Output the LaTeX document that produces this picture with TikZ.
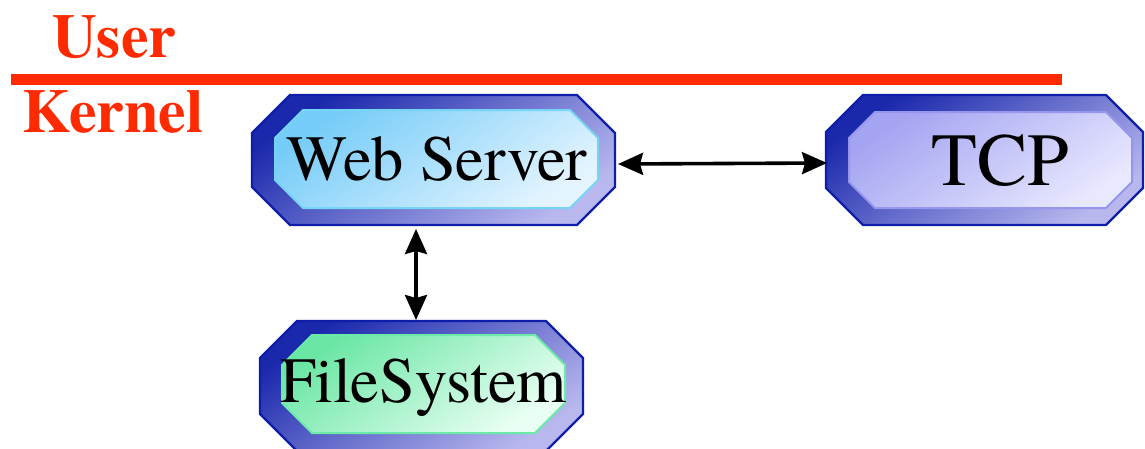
\documentclass[tikz,border=0pt]{standalone}
\usepackage{fontspec}
\IfFontExistsTF{texgyretermes-regular.otf}{%
  \setmainfont{texgyretermes}[Extension=.otf, UprightFont=*-regular, BoldFont=*-bold, ItalicFont=*-italic, BoldItalicFont=*-bolditalic]}{%
  \setmainfont{DejaVu Serif}}
\usetikzlibrary{arrows.meta}
\definecolor{redtxt}{RGB}{255,42,0}
\definecolor{ringdark}{RGB}{26,40,172}
\definecolor{ringlight}{RGB}{184,184,238}
\definecolor{ringborder}{RGB}{14,30,168}
\definecolor{webA}{RGB}{118,204,248}
\definecolor{webB}{RGB}{228,244,255}
\definecolor{webE}{RGB}{118,212,246}
\definecolor{tcpA}{RGB}{164,164,242}
\definecolor{tcpB}{RGB}{232,232,255}
\definecolor{tcpE}{RGB}{150,150,236}
\definecolor{fsA}{RGB}{106,230,164}
\definecolor{fsB}{RGB}{234,255,244}
\definecolor{fsE}{RGB}{108,234,168}
% octagon: x1,y1,x2,y2,cut
\newcommand\octo[5]{({#1+#5},#2) -- ({#3-#5},#2) -- (#3,{#2+#5}) -- (#3,{#4-#5}) -- ({#3-#5},#4) -- ({#1+#5},#4) -- (#1,{#4-#5}) -- (#1,{#2+#5}) -- cycle}
\tikzset{
  ring/.style={draw=ringborder, line width=2.4pt, line join=miter, shading=axis, top color=ringdark, bottom color=ringlight, shading angle=35},
  core/.style args={#1/#2/#3}{draw=#3, line width=2pt, shading=axis, top color=#1, bottom color=#2, shading angle=35},
  boxnode/.style={inner sep=0pt, outer sep=0pt, minimum height=130pt},
  lbl/.style={inner sep=0pt, anchor=base, font=\rmfamily\fontsize{64.5}{64.5}\selectfont},
  layer/.style={inner sep=0pt, anchor=base west, text=redtxt, font=\rmfamily\fontsize{62}{62}\selectfont\bfseries},
  arr/.style={line width=3.6pt, {Stealth[length=25pt,width=22pt,inset=3pt]}-{Stealth[length=25pt,width=22pt,inset=3pt]}}
}
\begin{document}
\begin{tikzpicture}[x=1pt,y=-1pt]
\useasboundingbox (0,0) rectangle (1145,448);
% layer line and labels
\coordinate (lineL) at (11,79.5);
\coordinate (lineR) at (1062,79.5);
\draw[redtxt, line width=10.5pt] (lineL) -- (lineR);
\node[layer] (user) at (52,57) {User};
\node[layer] (kernel) at (22,132) {Kernel};
% Web Server
\path[ring] \octo{252}{95}{615}{225}{38};
\path[core=webA/webB/webE] \octo{275}{110}{598}{208}{28};
\node[boxnode, minimum width=363pt] (ws) at (433.5,160) {};
\node[lbl] (wst) at (437,180) {Web Server};
% TCP
\path[ring] \octo{826}{95}{1143}{225}{37};
\path[core=tcpA/tcpB/tcpE] \octo{849}{112}{1132}{208}{26};
\node[boxnode, minimum width=317pt] (tcp) at (984.5,160) {};
\node[lbl, font=\rmfamily\fontsize{75}{75}\selectfont] (tcpt) at (1000.5,185) {TCP};
% FileSystem
\path[ring] \octo{260}{321}{583}{451}{37};
\path[core=fsA/fsB/fsE] \octo{282}{335}{565}{433}{30};
\node[boxnode, minimum width=323pt] (fs) at (421.5,386) {};
\node[lbl] (fst) at (423.5,402) {FileSystem};
% connectors
\draw[arr] ([xshift=3pt,yshift=-4pt]ws.east) -- ([xshift=1pt,yshift=-3pt]tcp.west);
\draw[arr] ([xshift=-17.5pt,yshift=-4pt]ws.south) -- ([xshift=-5.5pt,yshift=1pt]fs.north);
\end{tikzpicture}
\end{document}
